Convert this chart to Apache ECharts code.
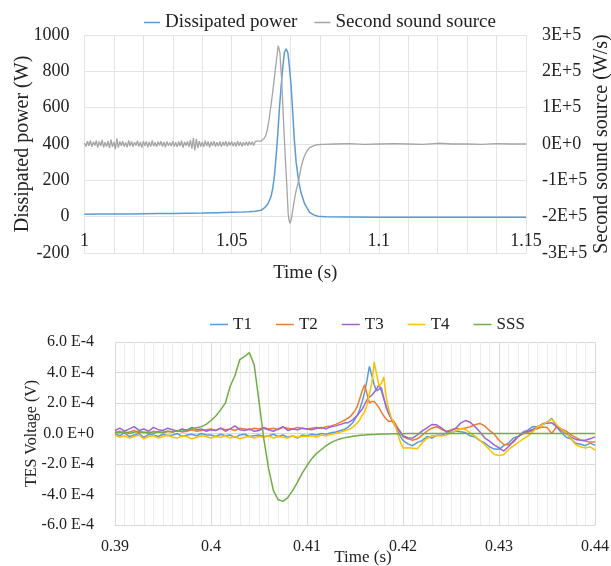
<!DOCTYPE html>
<html>
<head>
<meta charset="utf-8">
<script src="https://cdn.jsdelivr.net/npm/echarts@6/dist/echarts.min.js"></script>
<style>
html,body{margin:0;padding:0;background:#fff;}
#chart{width:611px;height:566px;}
</style>
</head>
<body>
<div id="chart"></div>
<script>
// ---------- TOP CHART DATA ----------
// Dissipated power (W)
const powerTime = [1.0,1.005,1.01,1.015,1.02,1.025,1.03,1.035,1.04,1.045,
  1.05,1.053,1.056,1.058,1.06,1.0611,1.0623,1.0634,1.064,1.0645,
  1.0651,1.0657,1.0662,1.0668,1.0674,1.0679,1.0685,1.0691,1.0696,1.0702,
  1.0708,1.0713,1.0719,1.0728,1.0736,1.0748,1.0765,1.0779,1.0793,1.082,
  1.09,1.1,1.11,1.12,1.13,1.14,1.15];
const powerValues = [13,14,14,15,16,17,18,19,20,22,
  24,25,27,30,35,48,70,112,160,222,
  332,461,590,718,828,902,924,902,828,718,
  560,420,300,191,130,70,24,10,2,-1,
  -2,-3,-3,-3,-3,-3,-3];

// Second sound source, in units of 1E+5 W/s
// noisy baseline sampled every 0.0005 s from 1.000 s to 1.060 s
const sssNoiseStart = 1.0, sssNoiseStep = 0.0005;
const sssNoiseValues = [0.03,-0.07,0.08,-0.05,0.1,-0.08,0.06,-0.04,0.09,-0.1,
  0.07,-0.06,0.11,-0.09,0.05,-0.07,0.08,-0.11,0.12,-0.08,
  0.06,-0.14,0.15,-0.1,0.07,-0.05,0.08,-0.07,0.04,-0.09,
  0.1,-0.06,0.07,-0.08,0.05,-0.04,0.09,-0.07,0.06,-0.1,
  0.08,-0.05,0.07,-0.09,0.06,-0.07,0.1,-0.06,0.05,-0.08,
  0.07,-0.04,0.08,-0.07,0.06,-0.09,0.07,-0.05,0.04,-0.06,
  0.08,-0.07,0.05,-0.08,0.07,-0.06,0.09,-0.1,0.06,-0.05,
  0.07,-0.08,0.11,-0.13,0.16,-0.18,0.14,-0.11,0.08,-0.07,
  0.06,-0.08,0.09,-0.06,0.07,-0.09,0.06,-0.05,0.08,-0.07,
  0.05,-0.06,0.07,-0.08,0.06,-0.05,0.08,-0.07,0.06,-0.04,
  0.07,-0.06,0.05,-0.07,0.08,-0.05,0.06,-0.07,0.05,-0.04,
  0.06,-0.05,0.07,-0.03,0.06,-0.04,0.07,0.02,0.08,0.04,
  0.08];
const sssEventTime = [1.0605,1.061,1.0615,1.062,1.0625,1.063,1.0636,1.0642,1.0647,1.0652,
  1.0655,1.0658,1.0661,1.0664,1.0667,1.067,1.0673,1.0676,1.0679,1.0682,
  1.0685,1.0688,1.0692,1.0695,1.0698,1.0701,1.0704,1.0708,1.0712,1.0716,
  1.072,1.0725,1.073,1.0737,1.0745,1.0755,1.0765,1.0778,1.079,1.081,
  1.085,1.09,1.095,1.1,1.105,1.11,1.115,1.12,1.125,1.13,1.135,1.14,1.145,1.15];
const sssEventValues = [0.09,0.15,0.22,0.35,0.57,0.85,1.21,1.6,1.95,2.3,
  2.5,2.7,2.62,2.5,2.1,1.76,1.2,0.66,0.15,-0.35,
  -0.8,-1.25,-1.91,-2.1,-2.18,-2.12,-2.0,-1.8,-1.6,-1.4,
  -1.25,-1.1,-0.9,-0.6,-0.38,-0.2,-0.1,-0.05,-0.02,-0.01,
  0.0,0.01,-0.01,0.0,0.01,0.0,-0.01,0.02,0.0,0.0,-0.01,0.01,0.0,0.0];

const topXTicks = [1, 1.05, 1.1, 1.15];

// ---------- BOTTOM CHART DATA ----------
// sampling grids (s)
const gridA = {start:0.39, step:0.0005, count:49};     // 0.390 .. 0.414
const gridB = {start:0.41425, step:0.00025, count:24}; // 0.41425 .. 0.420
const gridC = {start:0.4205, step:0.0005, count:40};   // 0.4205 .. 0.440
// TES voltages, in units of 1E-4 V
const t1Values = [0.0,-0.15,0.05,-0.2,-0.1,0.0,-0.25,-0.05,-0.1,-0.2,
 -0.05,-0.15,-0.1,0.0,-0.2,-0.1,-0.05,-0.15,0.0,-0.1,
 -0.1,-0.2,-0.05,-0.15,-0.1,-0.25,-0.1,-0.05,-0.2,-0.15,
 -0.1,-0.2,-0.15,-0.05,-0.2,-0.1,-0.25,-0.15,-0.3,-0.1,
 -0.15,-0.05,-0.1,0.0,-0.05,0.05,0.1,0.2,0.3,
 0.4,0.55,0.7,0.95,1.2,1.6,2.1,2.7,3.5,4.4,3.8,3.2,2.8,2.9,3.0,2.3,1.8,1.4,1.0,0.7,0.4,0.1,-0.2,-0.45,
 -0.68,-0.8,-0.58,-0.47,-0.2,-0.3,-0.12,-0.12,0.03,0.04,0.16,0.11,0.06,-0.15,-0.23,-0.47,-0.62,-0.87,-1.02,-1.04,
 -0.8,-0.62,-0.3,-0.2,0.1,0.22,0.45,0.44,0.62,0.74,1.0,0.42,0.07,-0.25,-0.36,-0.64,-0.7,-0.8,-0.63,-0.78];
const t2Values = [0.05,0.15,0.0,0.1,0.2,0.05,0.1,0.0,0.15,0.1,
 0.05,0.15,0.1,0.2,0.1,0.15,0.25,0.15,0.2,0.25,
 0.3,0.2,0.35,0.25,0.3,0.2,0.35,0.3,0.25,0.35,
 0.3,0.4,0.3,0.35,0.25,0.4,0.35,0.3,0.4,0.35,
 0.3,0.35,0.4,0.35,0.45,0.5,0.6,0.75,0.9,
 1.0,1.1,1.3,1.5,1.8,2.3,2.8,3.2,2.6,2.0,2.1,2.1,1.9,1.7,1.4,1.15,0.95,0.8,0.8,0.85,0.6,0.3,0.05,-0.2,
 -0.35,-0.44,-0.35,-0.11,0.15,0.35,0.44,0.28,0.13,0.24,0.33,0.3,0.36,0.44,0.57,0.66,0.5,0.2,-0.04,-0.44,
 -0.72,-0.74,-0.57,-0.2,-0.02,0.07,0.2,0.33,0.42,0.4,0.0,0.45,0.3,0.15,-0.09,-0.26,-0.44,-0.5,-0.55,-0.55];
const t3Values = [0.2,0.35,0.15,0.3,0.45,0.2,0.3,0.15,0.4,0.25,
 0.2,0.35,0.25,0.15,0.3,0.2,0.4,0.25,0.3,0.15,
 0.25,0.2,0.35,0.15,0.3,0.5,0.25,0.2,0.3,0.15,
 0.2,0.35,0.25,0.15,0.3,0.45,0.2,0.3,0.25,0.35,
 0.3,0.25,0.35,0.4,0.3,0.45,0.5,0.6,0.7,
 0.7,0.8,0.9,1.05,1.2,1.4,1.6,1.9,2.2,2.4,2.5,2.7,2.9,3.2,2.8,2.3,1.7,1.3,1.0,0.7,0.5,0.3,0.1,-0.15,
 -0.28,-0.3,-0.09,0.17,0.37,0.59,0.57,0.37,0.13,0.17,0.35,0.68,0.85,0.74,0.44,0.11,-0.28,-0.5,-0.75,-0.95,
 -1.15,-0.85,-0.5,-0.2,0.04,0.15,0.26,0.42,0.59,0.68,0.7,0.44,0.2,-0.02,-0.24,-0.39,-0.44,-0.44,-0.35,-0.22];
const t4Values = [-0.1,-0.25,-0.15,-0.3,-0.2,-0.1,-0.35,-0.2,-0.15,-0.3,
 -0.2,-0.1,-0.25,-0.3,-0.15,-0.2,-0.35,-0.25,-0.15,-0.2,
 -0.3,-0.2,-0.25,-0.15,-0.3,-0.2,-0.35,-0.25,-0.2,-0.3,
 -0.2,-0.25,-0.15,-0.3,-0.2,-0.25,-0.3,-0.15,-0.25,-0.2,
 -0.2,-0.15,-0.25,-0.1,-0.15,-0.05,0.0,0.1,0.2,
 0.25,0.3,0.4,0.55,0.7,0.9,1.2,1.4,1.9,2.6,3.3,4.7,3.9,3.1,3.3,3.7,2.4,1.6,1.1,0.75,0.4,-0.15,-0.6,-0.95,
 -0.94,-0.96,-1.0,-0.61,-0.33,-0.15,-0.13,-0.17,-0.11,0.04,0.17,0.31,0.26,0.04,-0.17,-0.44,-0.74,-1.05,-1.36,-1.44,
 -1.38,-1.05,-0.81,-0.59,-0.37,-0.17,0.09,0.44,0.57,0.74,0.94,0.59,0.28,0.0,-0.33,-0.74,-0.87,-0.96,-0.87,-1.09];
const sssValues = [0.1,0.05,0.12,0.0,0.08,0.15,0.05,0.1,0.02,0.12,
 0.08,0.15,0.1,0.18,0.15,0.25,0.3,0.38,0.45,0.6,
 0.85,1.15,1.55,2.0,3.1,3.8,4.85,5.05,5.3,4.5,
 2.1,-0.35,-2.3,-3.75,-4.35,-4.45,-4.2,-3.75,-3.2,-2.6,
 -2.1,-1.65,-1.3,-1.05,-0.8,-0.6,-0.45,-0.35,-0.27,
 -0.24,-0.21,-0.18,-0.16,-0.14,-0.12,-0.11,-0.1,-0.09,-0.08,-0.07,-0.06,-0.05,-0.05,-0.04,-0.04,-0.03,-0.03,-0.02,-0.02,-0.02,-0.01,-0.01,-0.01,
 0,0,0,0,0,0,0,0,0,0,0,0,0,0,0,0,0,0,0,0,
 0,0,0,0,0,0,0,0,0,0,0,0,0,0,0,0,0,0,0,0];
const bottomXTicks = [0.39,0.4,0.41,0.42,0.43,0.44];

// ---------- BUILD ----------
function gridTimes(g){const out=[];for(let i=0;i<g.count;i++)out.push(+(g.start+i*g.step).toFixed(5));return out;}
const bottomTime = [].concat(gridTimes(gridA), gridTimes(gridB), gridTimes(gridC));
const zip = (xs, ys) => xs.map((x,i)=>[x, ys[i]]);
const sssNoiseTime = sssNoiseValues.map((_,i)=>+(sssNoiseStart+i*sssNoiseStep).toFixed(4));
const sssTopData = zip(sssNoiseTime, sssNoiseValues).concat(zip(sssEventTime, sssEventValues));

const FONT = 'Liberation Serif';
const TXT = '#222';
const GRID = '#d9d9d9';
const MINOR = '#ececec';

const chart = echarts.init(document.getElementById('chart'), null, {renderer:'canvas'});
chart.setOption({
  animation:false,
  backgroundColor:'#fff',
  textStyle:{fontFamily:FONT, color:TXT},
  legend:[
    {data:['Dissipated power','Second sound source'], left:139, top:8, icon:'rect', itemWidth:16, itemHeight:1.5, itemGap:17,
     textStyle:{fontFamily:FONT, fontSize:19, color:TXT}},
    {data:['T1','T2','T3','T4','SSS'], left:205, top:311, icon:'rect', itemWidth:18, itemHeight:1.5, itemGap:24,
     textStyle:{fontFamily:FONT, fontSize:17, color:TXT}}
  ],
  grid:[
    {left:84.5, right:85, top:35, height:218, outerBoundsMode:'none', containLabel:false},
    {left:115, right:16, top:342, height:183, outerBoundsMode:'none', containLabel:false}
  ],
  xAxis:[
    {gridIndex:0, type:'value', min:1, max:1.15, interval:0.01,
     name:'Time (s)', nameLocation:'middle', nameGap:11, nameMoveOverlap:false,
     nameTextStyle:{fontFamily:FONT, fontSize:19, color:TXT},
     axisLine:{onZero:false, lineStyle:{color:'#e4e4e4'}},
     axisTick:{show:false},
     axisLabel:{margin:-21, fontFamily:FONT, fontSize:18, color:TXT,
       formatter:v=>{const m=topXTicks.find(t=>Math.abs(t-v)<1e-6);return m===undefined?'':String(m);}},
     splitLine:{show:true, lineStyle:{color:'#e4e4e4', width:1}}},
    {gridIndex:1, type:'value', min:0.39, max:0.44, interval:0.01,
     name:'Time (s)', nameLocation:'middle', nameGap:24, nameMoveOverlap:false,
     nameTextStyle:{fontFamily:FONT, fontSize:17, color:TXT, padding:[0,0,0,16]},
     axisLine:{onZero:false, lineStyle:{color:GRID}},
     axisTick:{show:false},
     axisLabel:{margin:14, fontFamily:FONT, fontSize:16, color:TXT,
       formatter:v=>{const m=bottomXTicks.find(t=>Math.abs(t-v)<1e-6);return m===undefined?'':String(m);}},
     minorTick:{show:false, splitNumber:10},
     minorSplitLine:{show:true, lineStyle:{color:MINOR, width:1}},
     splitLine:{show:true, lineStyle:{color:GRID, width:1}}}
  ],
  yAxis:[
    {gridIndex:0, type:'value', min:-200, max:1000, interval:200, position:'left',
     name:'Dissipated power (W)', nameLocation:'middle', nameGap:52, nameMoveOverlap:false,
     nameTextStyle:{fontFamily:FONT, fontSize:20, color:TXT},
     axisLine:{show:false, onZero:false}, axisTick:{show:false},
     axisLabel:{margin:15, fontFamily:FONT, fontSize:18, color:TXT, formatter:v=>String(v)},
     splitLine:{show:true, lineStyle:{color:'#e4e4e4'}}},
    {gridIndex:0, type:'value', min:-3, max:3, interval:1, position:'right',
     name:'Second sound source (W/s)', nameLocation:'middle', nameGap:66, nameRotate:90, nameMoveOverlap:false,
     nameTextStyle:{fontFamily:FONT, fontSize:20, color:TXT},
     axisLine:{show:false, onZero:false}, axisTick:{show:false},
     axisLabel:{margin:16, fontFamily:FONT, fontSize:18, color:TXT,
       formatter:v=>v===0?'0E+0':v+'E+5'},
     splitLine:{show:false}},
    {gridIndex:1, type:'value', min:-6, max:6, interval:2,
     name:'TES Voltage (V)', nameLocation:'middle', nameGap:75, nameMoveOverlap:false,
     nameTextStyle:{fontFamily:FONT, fontSize:16, color:TXT},
     axisLine:{show:false, onZero:false}, axisTick:{show:false},
     axisLabel:{margin:21, fontFamily:FONT, fontSize:16, color:TXT,
       formatter:v=>v===0?'0.0 E+0':v.toFixed(1)+' E-4'},
     splitLine:{show:true, lineStyle:{color:GRID}}}
  ],
  series:[
    {name:'Dissipated power', type:'line', xAxisIndex:0, yAxisIndex:0, symbol:'none',
     data:zip(powerTime, powerValues), lineStyle:{color:'#5B9BD5', width:1.5}, itemStyle:{color:'#5B9BD5'}},
    {name:'Second sound source', type:'line', xAxisIndex:0, yAxisIndex:1, symbol:'none',
     data:sssTopData, lineStyle:{color:'#A5A5A5', width:1.3}, itemStyle:{color:'#A5A5A5'}},
    {name:'T1', type:'line', xAxisIndex:1, yAxisIndex:2, symbol:'none',
     data:zip(bottomTime, t1Values), lineStyle:{color:'#5B9BD5', width:1.5}, itemStyle:{color:'#5B9BD5'}},
    {name:'T2', type:'line', xAxisIndex:1, yAxisIndex:2, symbol:'none',
     data:zip(bottomTime, t2Values), lineStyle:{color:'#ED7D31', width:1.5}, itemStyle:{color:'#ED7D31'}},
    {name:'T3', type:'line', xAxisIndex:1, yAxisIndex:2, symbol:'none',
     data:zip(bottomTime, t3Values), lineStyle:{color:'#9E63D1', width:1.5}, itemStyle:{color:'#9E63D1'}},
    {name:'T4', type:'line', xAxisIndex:1, yAxisIndex:2, symbol:'none',
     data:zip(bottomTime, t4Values), lineStyle:{color:'#FFC000', width:1.5}, itemStyle:{color:'#FFC000'}},
    {name:'SSS', type:'line', xAxisIndex:1, yAxisIndex:2, symbol:'none',
     data:zip(bottomTime, sssValues), lineStyle:{color:'#70AD47', width:1.5}, itemStyle:{color:'#70AD47'}}
  ]
});
</script>
</body>
</html>
